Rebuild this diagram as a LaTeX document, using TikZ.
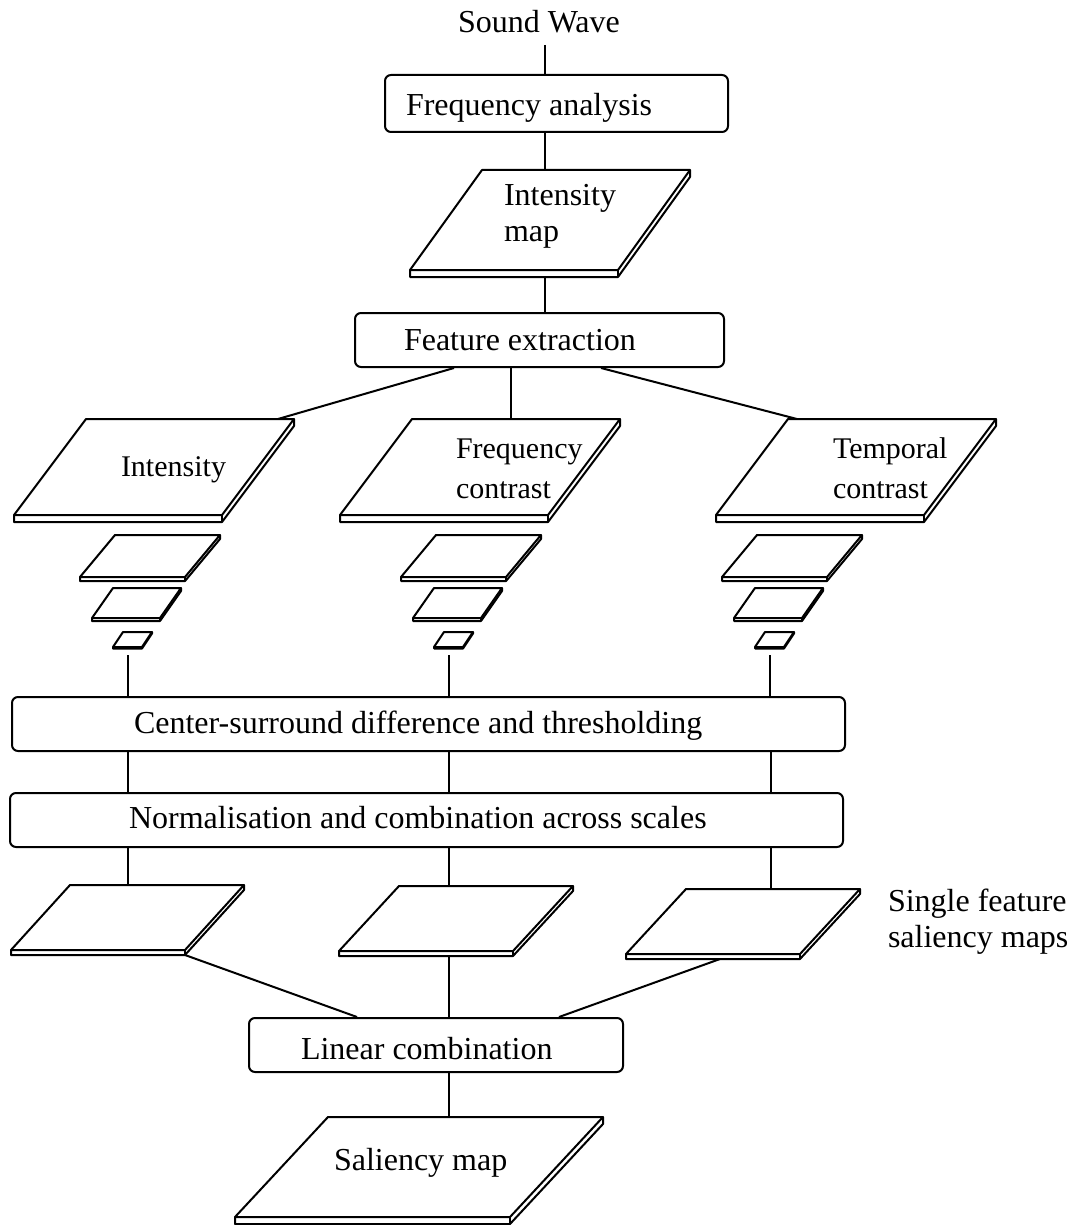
\documentclass[tikz,border=0pt]{standalone}
\usepackage{fontspec}
\setmainfont{Liberation Serif}
\usetikzlibrary{calc}

% flat map drawn as a thin slab: name, x and y of front-left corner, width, skew, height, thickness
\newcommand{\mapslab}[7]{%
  \coordinate (#1-bl) at (#2,#3);
  \coordinate (#1-br) at (#2+#4,#3);
  \coordinate (#1-tl) at (#2+#5,#3-#6);
  \coordinate (#1-tr) at (#2+#4+#5,#3-#6);
  \coordinate (#1-top) at (#2+#5+#4/2,#3-#6);
  \coordinate (#1-bot) at (#2+#4/2,#3+#7);
  \coordinate (#1-dbr) at (#2+#4,#3+#7);
  \draw[slab] (#1-bl) -- (#1-br) -- (#1-tr) -- (#1-tl) -- cycle;
  \draw[slab] (#1-bl) -- ++(0,#7) -- (#1-dbr) -- (#2+#4+#5,#3-#6+#7) -- (#1-tr);
  \draw[slab] (#1-br) -- (#1-dbr);
}

\begin{document}
\begin{tikzpicture}[x=0.5pt,y=-0.5pt,line join=round,line width=1pt,font=\fontsize{16}{18}\selectfont,
  stage/.style={draw,rounded corners=3pt,inner sep=0pt,minimum height=27pt},
  slab/.style={line width=1pt},
  lbl/.style={inner sep=0pt,anchor=base west,align=left},
  featlbl/.style={lbl,font=\fontsize{15}{20}\selectfont}]
\useasboundingbox (0,0) rectangle (1070,1225);
\coordinate (midcol) at (545,0);
\coordinate (fcol) at (511,0);
\coordinate (colA) at (128,0);
\coordinate (colB) at (449,0);
\coordinate (colC) at (771,0);

% processing stages
\node[stage,minimum width=171.5pt,minimum height=28.5pt] (fa) at (556.5,103.5) {};
\node[stage,minimum width=184.5pt] (fe) at (539.5,340) {};
\node[stage,minimum width=416.5pt] (cs) at (428.5,724) {};
\node[stage,minimum width=416.5pt] (nc) at (426.5,820) {};
\node[stage,minimum width=187pt] (lc) at (436,1045) {};

\node[lbl] (sw) at (457,33) {Sound Wave};
\coordinate (swfoot) at (545,45);
\node[lbl] (fa-t) at (405,116) {Frequency analysis};
\node[lbl] (fe-t) at (403,350) {Feature extraction};
\node[lbl] (cs-t) at (133,733) {Center-surround difference and thresholding};
\node[lbl] (nc-t) at (128,828) {Normalisation and combination across scales};
\node[lbl] (lc-t) at (300,1059) {Linear combination};

% maps
\mapslab{im}{410}{270}{208}{72}{100}{7}
\node[lbl] (im-t) at (503,242) {Intensity\\map};
\mapslab{int}{14}{515}{208}{72}{96}{7}
\mapslab{fc}{340}{515}{208}{72}{96}{7}
\mapslab{tc}{716}{515}{208}{72}{96}{7}
\node[featlbl] (int-t) at (120,476) {Intensity};
\node[featlbl] (fc-t) at (455,498) {Frequency\\contrast};
\node[featlbl] (tc-t) at (832,498) {Temporal\\contrast};

% scale pyramids
\foreach \dx/\n in {0/A,321/B,642/C}{
  \mapslab{p\n1}{80+\dx}{577}{105}{35}{42}{4}
  \mapslab{p\n2}{92+\dx}{618}{68}{21}{30}{3}
  \mapslab{p\n3}{113+\dx}{647}{29}{10}{15}{1.5}
  \coordinate (stub\n) at (128+\dx,655);
  \draw (stub\n) -- (cs.north -| stub\n);
}

\mapslab{sfa}{11}{950}{174}{59}{65}{5}
\mapslab{sfb}{339}{951}{174}{60}{65}{5}
\mapslab{sfc}{626}{954}{174}{60}{65}{5}
\node[lbl] (sf-t) at (887,947) {Single feature\\saliency maps};
\mapslab{sal}{235}{1217}{275}{93}{100}{7}
\node[lbl] (sal-t) at (333,1170) {Saliency map};

% connectors
\draw (swfoot) -- (fa.north -| swfoot);
\draw (fa.south -| midcol) -- (im-top -| midcol);
\draw (im-bot -| midcol) -- (fe.north -| midcol);
\draw ([xshift=-42.75pt]fe.south) -- ([xshift=-8pt]int-tr);
\draw (fe.south -| fcol) -- (fc-top -| fcol);
\draw ([xshift=30.75pt]fe.south) -- ([xshift=4.5pt]tc-tl);
\foreach \c in {colA,colB,colC}{
  \draw (cs.south -| \c) -- (nc.north -| \c);
}
\draw (nc.south -| colA) -- (sfa-top -| colA);
\draw (nc.south -| colB) -- (sfb-top -| colB);
\draw (nc.south -| colC) -- (sfc-top -| colC);
\draw (sfa-dbr) -- ([xshift=-39.5pt]lc.north);
\draw (sfb-bot -| colB) -- (lc.north -| colB);
\draw ([xshift=3.5pt]sfc-bot) -- ([xshift=61.5pt]lc.north);
\draw (lc.south -| colB) -- (sal-top -| colB);
\end{tikzpicture}
\end{document}
